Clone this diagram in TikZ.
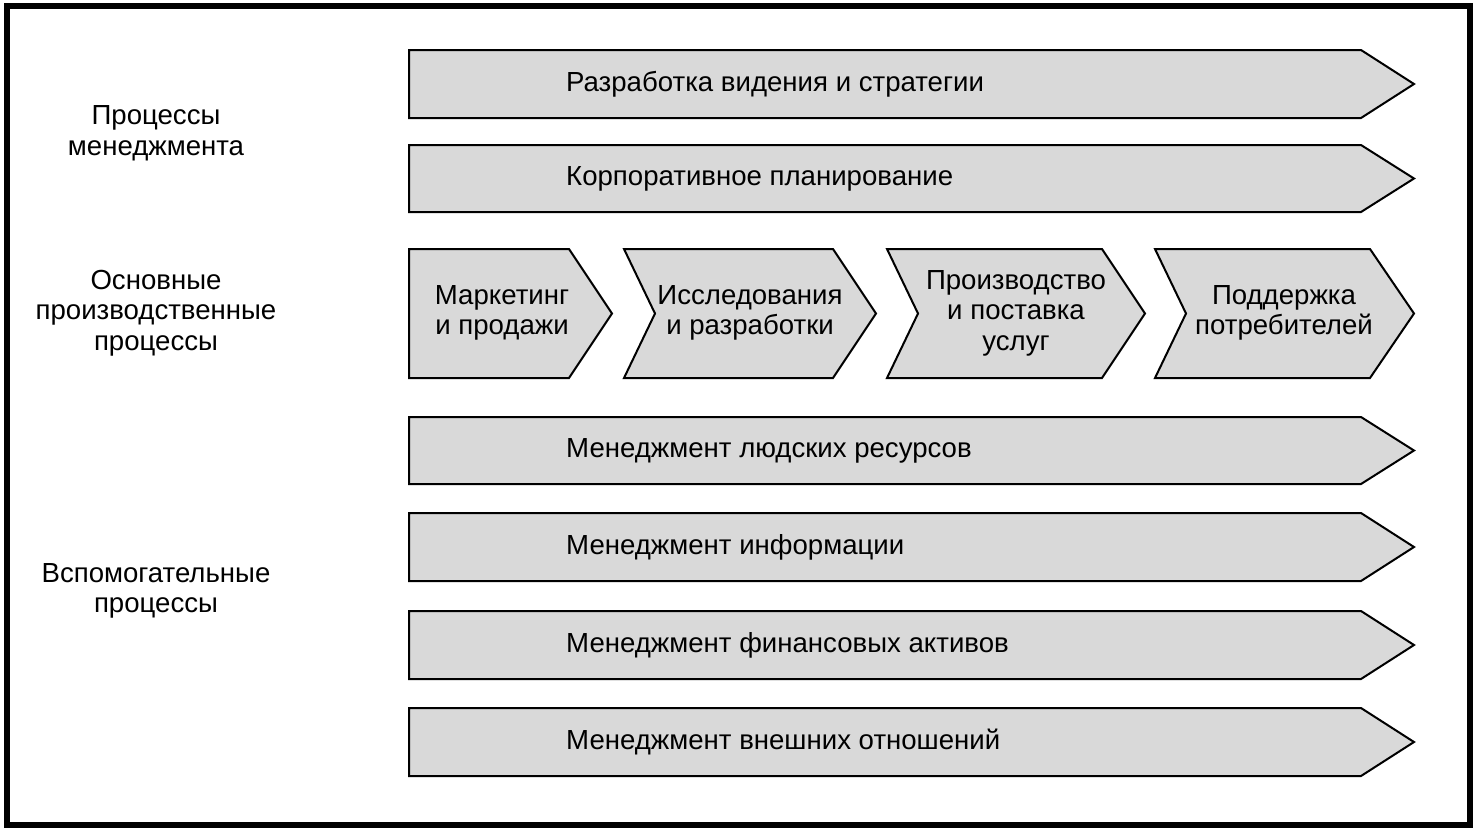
\documentclass[tikz,border=0pt]{standalone}
\usepackage{fontspec}
\setmainfont{Liberation Sans}
\begin{document}
\begin{tikzpicture}[x=1pt,y=-1pt,
  shapefill/.style={draw=black,line width=2pt,fill=procgray,line join=miter},
  lbl/.style={font=\fontsize{27.6}{30.6}\selectfont,inner sep=0pt,align=center},
  bartext/.style={font=\fontsize{27.6}{30.6}\selectfont,inner sep=0pt,anchor=west}]
\definecolor{procgray}{RGB}{217,217,217}
\useasboundingbox (0,0) rectangle (1476,831);
\fill[white] (0,0) rectangle (1476,831);
\draw[line width=6pt] (6.5,5.5) rectangle (1469.5,824.5);
% left labels
\node[lbl] (lman) at (156,133) {Процессы\\менеджмента};
\node[lbl] (lcore) at (156,313) {Основные\\производственные\\процессы};
\node[lbl] (lsup) at (156,591) {Вспомогательные\\процессы};
% long bars
\newcommand{\procbar}[4]{%
  \draw[shapefill] (409,#1) -- (1361,#1) -- (1414,{(#1+#2)/2}) -- (1361,#2) -- (409,#2) -- cycle;
  \node[bartext] (#3) at (566,{(#1+#2)/2}) {#4};}
\procbar{50}{118}{b1}{Разработка видения и стратегии}
\procbar{145}{212}{b2}{Корпоративное планирование}
\procbar{417}{484}{b3}{Менеджмент людских ресурсов}
\procbar{513}{581}{b4}{Менеджмент информации}
\procbar{611}{679}{b5}{Менеджмент финансовых активов}
\procbar{708}{776}{b6}{Менеджмент внешних отношений}
% chevrons
\draw[shapefill] (409,249) -- (569,249) -- (612,313.5) -- (569,378) -- (409,378) -- cycle;
\draw[shapefill] (624,249) -- (833,249) -- (876,313.5) -- (833,378) -- (624,378) -- (655,313.5) -- cycle;
\draw[shapefill] (887,249) -- (1102,249) -- (1145,313.5) -- (1102,378) -- (887,378) -- (918,313.5) -- cycle;
\draw[shapefill] (1155,249) -- (1370,249) -- (1414,313.5) -- (1370,378) -- (1155,378) -- (1186,313.5) -- cycle;
\node[lbl] (c1) at (502,313) {Маркетинг\\и продажи};
\node[lbl] (c2) at (750,313) {Исследования\\и разработки};
\node[lbl] (c3) at (1016,313) {Производство\\и поставка\\услуг};
\node[lbl] (c4) at (1284,313) {Поддержка\\потребителей};
\end{tikzpicture}
\end{document}
